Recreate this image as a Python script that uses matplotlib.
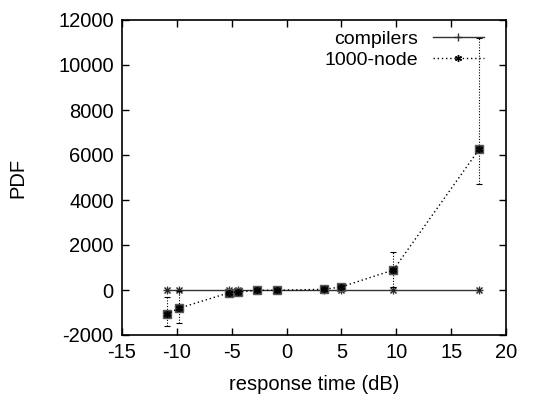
import numpy as np
import matplotlib
matplotlib.use('Agg')
import matplotlib.pyplot as plt

plt.rcParams['font.family'] = ['Liberation Sans', 'DejaVu Sans']
plt.rcParams['axes.unicode_minus'] = False

# Data
x_vals = [-10.93, -9.83, -5.22, -4.45, -2.67, -0.87, 3.41, 4.96, 9.73, 17.57]
compilers = [0, 0, 0, 0, 0, 0, 0, 0, 0, 0]
node1000 = [-1081, -815, -118, -89, -15, -10, 30, 133, 889, 6267]
node_low = [-1613, -1450, -150, -120, -30, -25, 10, 100, 130, 4696]
node_high = [-324, -50, -80, -60, 0, 5, 50, 170, 1670, 11215]

x_ticks = [-15, -10, -5, 0, 5, 10, 15, 20]
y_ticks = [-2000, 0, 2000, 4000, 6000, 8000, 10000, 12000]

fig = plt.figure(figsize=(5.58, 3.99), dpi=100)
ax = fig.add_axes([122 / 558, 1 - 335 / 399, 384 / 558, 315 / 399])

# compilers line
ax.plot(x_vals, compilers, color='#333333', linewidth=1.0, marker='+',
        markersize=6, markeredgewidth=1.0, label='compilers')
ax.plot(x_vals, compilers, linestyle='none', color='#222222', marker='x',
        markersize=4, markeredgewidth=1.0)

# 1000-node with error bars
node = np.array(node1000)
yerr = [node - np.array(node_low), np.array(node_high) - node]
eb = ax.errorbar(x_vals, node1000, yerr=yerr, fmt='none', ecolor='black',
                 elinewidth=0.8, capsize=2, capthick=0.8)
for c in eb[2]:
    c.set_linestyle((0, (1, 1.5)))
ax.plot(x_vals, node1000, linestyle='none', marker='s', markersize=5.5,
        color='#222222', markeredgecolor='#555555')
ax.plot(x_vals, node1000, linestyle=(0, (1, 2)), color='black', linewidth=1.0,
        marker=(6, 2, 0), markersize=5, markeredgewidth=1.0, label='1000-node')

ax.set_xlim(-15, 20)
ax.set_ylim(-2000, 12000)
ax.set_xticks(x_ticks)
ax.set_yticks(y_ticks)
ax.tick_params(direction='in', length=5, width=1, top=True, right=True,
               labelsize=14.5, pad=6)
for s in ax.spines.values():
    s.set_linewidth(1.2)

ax.set_xlabel('response time (dB)', fontsize=14.5, labelpad=9)
ax.set_ylabel('PDF', fontsize=14.5, labelpad=22)

ax.legend(loc='upper right', frameon=False, markerfirst=False, fontsize=14,
          handlelength=2.6, handletextpad=0.75, labelspacing=0.2,
          borderaxespad=0.2, bbox_to_anchor=(0.972, 1.005))

fig.savefig('out.png', dpi=100)
